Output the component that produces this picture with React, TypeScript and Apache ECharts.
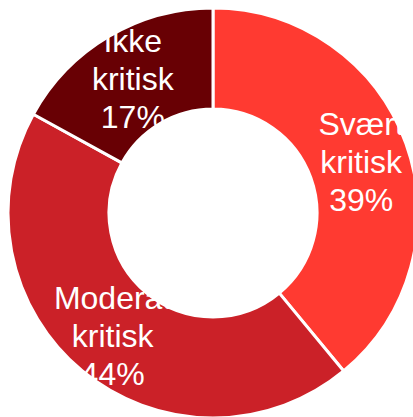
import React, { useEffect, useRef } from "react";
import * as echarts from "echarts";

const categories = ["Svært kritisk", "Moderat kritisk", "Ikke kritisk"];
const values = [39, 44, 17];
const colors = ["#FF3A31", "#CB2128", "#680004"];

export default function App() {
  const ref = useRef<HTMLDivElement>(null);
  useEffect(() => {
    if (!ref.current) return;
    const chart = echarts.init(ref.current, undefined, { renderer: "svg" });
    chart.setOption({
      animation: false,
      series: [
        {
          type: "pie",
          center: [213, 213],
          radius: [104, 205],
          startAngle: 90,
          clockwise: true,
          avoidLabelOverlap: false,
          itemStyle: { borderColor: "#ffffff", borderWidth: 3 },
          label: {
            show: true,
            position: "inside",
            color: "#ffffff",
            fontFamily: "Liberation Sans, Arial, sans-serif",
            fontSize: 32,
            lineHeight: 38,
            offset: [0, 2],
            formatter: (p: any) =>
              String(p.name).replace(" ", "\n") + "\n" + Math.round(p.percent) + "%",
          },
          labelLine: { show: false },
          emphasis: { disabled: true },
          data: categories.map((c, i) => ({
            name: c,
            value: values[i],
            itemStyle: { color: colors[i] },
          })),
        },
      ],
    });
    return () => chart.dispose();
  }, []);
  return (
    <div
      ref={ref}
      style={{ position: "absolute", left: 0, top: 0, width: 413, height: 417 }}
    />
  );
}
